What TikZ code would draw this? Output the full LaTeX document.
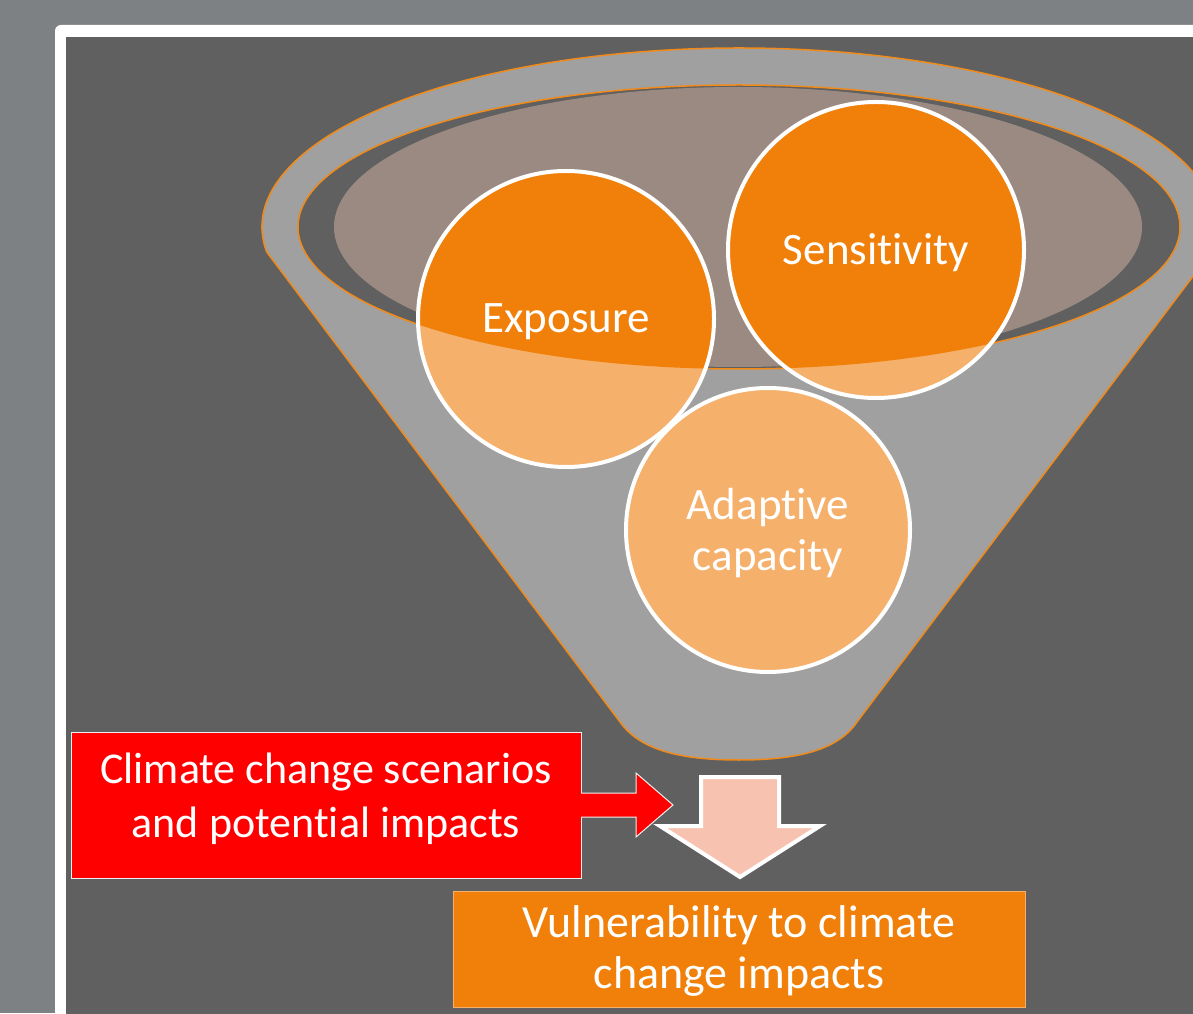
\documentclass[tikz,border=0pt]{standalone}
\usepackage{fontspec}
\setmainfont{Carlito}[Ligatures=NoCommon]
\definecolor{outerbg}{HTML}{7E8184}
\definecolor{darkbg}{HTML}{606060}
\definecolor{funnelgray}{HTML}{A0A0A0}
\definecolor{taupe}{HTML}{9B8A82}
\definecolor{orng}{HTML}{F0800A}
\definecolor{lorng}{HTML}{F5B06B}
\definecolor{salmon}{HTML}{F7C3B0}
\definecolor{redbox}{HTML}{FF0000}
\definecolor{edgeorng}{HTML}{F08A1A}
\begin{document}
\begin{tikzpicture}[x=1pt,y=1pt,
  bubble/.style={circle, minimum size=#1, inner sep=0pt, draw=white, line width=4pt},
  lbl/.style={inner sep=0pt, text=white, align=center, font=\fontsize{45}{#1}\selectfont},
  lbl/.default=51,
  boxshape/.style={rectangle, inner sep=0pt, outer sep=0pt, line width=1pt},
  rim/.style={draw=edgeorng, line width=1.5pt}]
\useasboundingbox (0,0) rectangle (1193,1013);
\clip (0,0) rectangle (1193,1013);
% backgrounds
\fill[outerbg] (0,0) rectangle (1193,1013);
\fill[white, rounded corners=6pt] (55,-30) rectangle (1240,988);
\fill[darkbg] (66,-30) rectangle (1240,976);
% funnel body
\filldraw[fill=funnelgray, rim] (266.64,761.09) arc[start angle=188, end angle=-8, x radius=477, y radius=179]
  -- (857,291) .. controls (838,263) and (798,253) .. (739,253)
  .. controls (680,253) and (640,263) .. (620,291) -- cycle;
% inner rim
\filldraw[fill=darkbg, rim] (739,786) ellipse [x radius=441, y radius=142];
\fill[taupe] (738,786) ellipse [x radius=404, y radius=140];
% circles
\fill[lorng] (566,694) circle (148);
\fill[lorng] (876,763) circle (148);
\fill[lorng] (768,483) circle (142);
\begin{scope}
  \clip (739,786) ellipse [x radius=441, y radius=142];
  \fill[orng] (566,694) circle (148);
  \fill[orng] (876,763) circle (148);
  \fill[orng] (768,483) circle (142);
\end{scope}
\node[bubble=296pt] (exp) at (566,694) {};
\node[bubble=296pt] (sens) at (876,763) {};
\node[bubble=284pt] (adap) at (768,483) {};
\node[lbl] (explbl) at ([yshift=-3]exp.center) {Exposure};
\node[lbl] (senslbl) at ([yshift=-3]sens.center) {Sensitivity};
\node[lbl] (adaplbl) at ([yshift=-3]adap.center) {Adaptive\\capacity};
% red box with arrow
\node[boxshape, fill=redbox, draw=white!88!gray, minimum width=510pt, minimum height=146pt]
  (scen) at (326,208) {};
\node[lbl=54, font=\fontsize{44}{54}\selectfont] (scenlbl) at ([yshift=6]scen.center) {Climate change scenarios\\and potential impacts};
\fill[redbox] (579,220) -- (636,220) -- (636,240) -- (673,208) -- (636,176) -- (636,196) -- (579,196) -- cycle;
\draw[white!88!gray, line width=1pt] (581,220) -- (636,220) -- (636,240) -- (673,208) -- (636,176) -- (636,196) -- (581,196);
% down arrow
\filldraw[fill=salmon, draw=white, line width=4pt, line join=miter]
  (701,236) -- (779,236) -- (779,187) -- (820,187) -- (740,136) -- (660,187) -- (701,187) -- cycle;
% result box
\node[boxshape, fill=orng, draw=lorng, minimum width=572pt, minimum height=116pt]
  (vuln) at (739,64) {};
\node[lbl=51, font=\fontsize{46}{51}\selectfont] (vulnlbl) at ([yshift=-2]vuln.center) {Vulnerability to climate\\change impacts};
\end{tikzpicture}
\end{document}
